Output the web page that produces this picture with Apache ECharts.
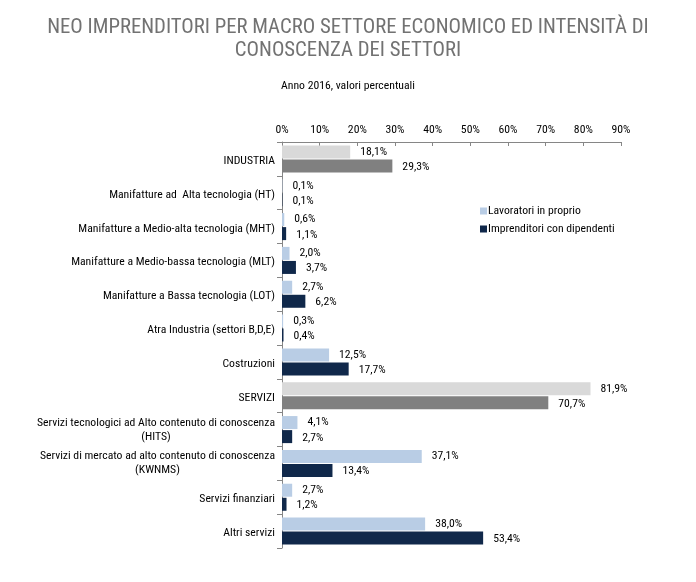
<!DOCTYPE html>
<html>
<head>
<meta charset="utf-8">
<script src="https://cdn.jsdelivr.net/npm/echarts@6/dist/echarts.min.js"></script>
<style>html,body{margin:0;padding:0;background:#fff;}#c{width:696px;height:582px;}</style>
</head>
<body>
<div id="c"></div>
<script>
var categories = [
  'INDUSTRIA',
  'Manifatture ad  Alta tecnologia (HT)',
  'Manifatture a Medio-alta tecnologia (MHT)',
  'Manifatture a Medio-bassa tecnologia (MLT)',
  'Manifatture a Bassa tecnologia (LOT)',
  'Atra Industria (settori B,D,E)',
  'Costruzioni',
  'SERVIZI',
  'Servizi tecnologici ad Alto contenuto di conoscenza\n(HITS)',
  'Servizi di mercato ad alto contenuto di conoscenza\n(KWNMS)',
  'Servizi finanziari',
  'Altri servizi'
];
var lavoratori = [18.1, 0.1, 0.6, 2.0, 2.7, 0.3, 12.5, 81.9, 4.1, 37.1, 2.7, 38.0];
var imprenditori = [29.3, 0.1, 1.1, 3.7, 6.2, 0.4, 17.7, 70.7, 2.7, 13.4, 1.2, 53.4];
var macroIdx = [0, 7];
var xTicks = [0, 10, 20, 30, 40, 50, 60, 70, 80, 90];

var FONT = "'Roboto Condensed', 'Liberation Sans Narrow', 'Arial Narrow', sans-serif";
var C_LIGHT = '#b9cde5', C_DARK = '#10284a', C_LGRAY = '#d9d9d9', C_DGRAY = '#808080';
var TITLE1 = 'NEO IMPRENDITORI PER MACRO SETTORE ECONOMICO ED INTENSITÀ DI';

var ctx = document.createElement('canvas').getContext('2d');
ctx.font = '20px ' + FONT;
var titleSize = Math.min(24, 20 * 602 / ctx.measureText(TITLE1).width);
var FS = 11.7;

function mk(vals, macro) {
  return vals.map(function (v, i) {
    var d = { value: v };
    if (macroIdx.indexOf(i) >= 0) d.itemStyle = { color: macro };
    return d;
  });
}
function fmt(p) { return p.value.toFixed(1).replace('.', ',') + '%'; }

var chart = echarts.init(document.getElementById('c'));
chart.setOption({
  animation: false,
  textStyle: { fontFamily: FONT },
  title: [{
    text: TITLE1 + '\nCONOSCENZA DEI SETTORI',
    left: 'center', top: 11,
    textStyle: { fontFamily: FONT, fontSize: titleSize, fontWeight: 'normal', color: '#727272', lineHeight: 23 }
  }, {
    text: 'Anno 2016, valori percentuali',
    left: 'center', top: 75,
    textStyle: { fontFamily: FONT, fontSize: FS, fontWeight: 'normal', color: '#000' }
  }],
  legend: {
    orient: 'vertical', left: 475, top: 200, icon: 'rect',
    itemWidth: 7, itemHeight: 7, itemGap: 6,
    textStyle: { fontFamily: FONT, fontSize: FS, color: '#000', padding: [0, 0, 0, -4] },
    data: ['Lavoratori in proprio', 'Imprenditori con dipendenti']
  },
  grid: { left: 282, right: 75, top: 142, bottom: 34, containLabel: false },
  xAxis: {
    type: 'value', position: 'top', min: 0, max: 90, interval: 10,
    axisLine: { show: true, lineStyle: { color: '#868686' } },
    axisTick: { show: true, inside: true, length: 4, lineStyle: { color: '#868686' } },
    splitLine: { show: false },
    axisLabel: { fontFamily: FONT, fontSize: FS, color: '#000', margin: 6,
      formatter: function (v) { return v + '%'; } }
  },
  yAxis: {
    type: 'category', inverse: true, data: categories,
    axisLine: { show: true, lineStyle: { color: '#868686' } },
    axisTick: { show: true, length: 5, lineStyle: { color: '#868686' } },
    axisLabel: {
      fontFamily: FONT, fontSize: FS, color: '#000', margin: 7,
      formatter: function (v) {
        if (v.indexOf('\n') >= 0) {
          var parts = v.split('\n');
          return '{a|' + parts[0] + '}\n{b|' + parts[1] + '}';
        }
        return '{p|' + v + '}';
      },
      rich: {
        p: { fontFamily: FONT, fontSize: FS, color: '#000', padding: [4, 0, 0, 0] },
        a: { fontFamily: FONT, fontSize: FS, color: '#000', lineHeight: 14, align: 'left' },
        b: { fontFamily: FONT, fontSize: FS, color: '#000', lineHeight: 14, align: 'center' }
      }
    }
  },
  series: [{
    name: 'Lavoratori in proprio', type: 'bar', data: mk(lavoratori, C_LGRAY),
    itemStyle: { color: C_LIGHT }, barWidth: 13, barGap: '8%',
    label: { show: true, position: 'right', distance: 10, offset: [0, 0], formatter: fmt,
      fontFamily: FONT, fontSize: FS, color: '#000' }
  }, {
    name: 'Imprenditori con dipendenti', type: 'bar', data: mk(imprenditori, C_DGRAY),
    itemStyle: { color: C_DARK }, barWidth: 13,
    label: { show: true, position: 'right', distance: 10, offset: [0, 1], formatter: fmt,
      fontFamily: FONT, fontSize: FS, color: '#000' }
  }]
});
</script>
</body>
</html>
